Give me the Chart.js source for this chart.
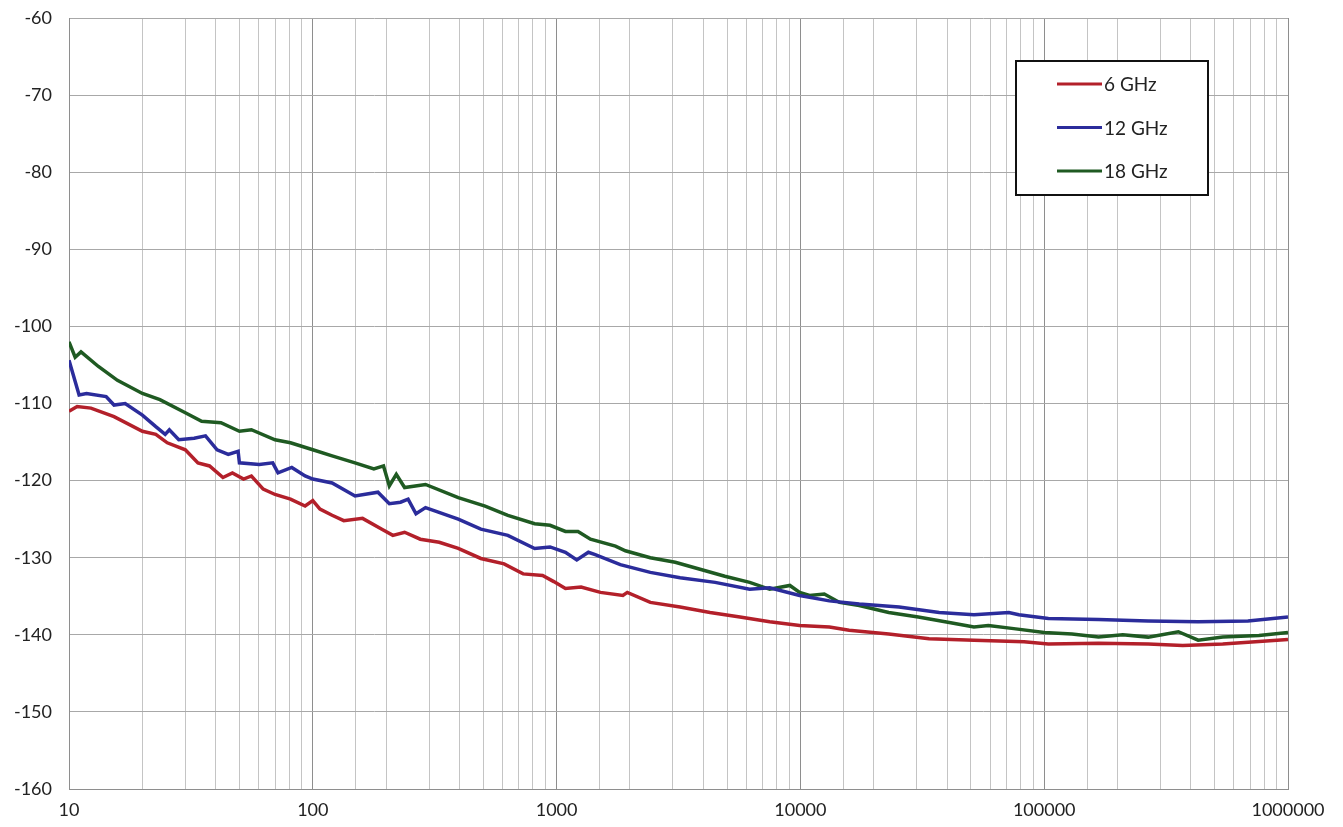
<!DOCTYPE html>
<html>
<head>
<meta charset="utf-8">
<script src="https://cdn.jsdelivr.net/npm/chart.js@4.4.1/dist/chart.umd.min.js"></script>
<style>
  body { margin: 0; background: #fff; }
  #wrap { width: 1343px; height: 827px; }
</style>
</head>
<body>
<div id="wrap"><canvas id="noiseChart" width="1343" height="827"></canvas></div>
<script>
// Series labels
const seriesLabels = ['6 GHz', '12 GHz', '18 GHz'];

// 6 GHz
const freq6 = [10, 10.8, 12.3, 15.3, 20, 22.7, 25.3, 30, 33.8, 37.7, 42.8, 46.8, 52, 56, 62.6, 70, 81, 93, 100, 107, 120, 134, 160, 192, 213, 238, 276, 330, 395, 489, 609, 729, 876, 974, 1087, 1260, 1513, 1870, 1950, 2423, 3210, 4260, 5650, 7485, 9930, 13150, 15850, 23030, 33700, 51500, 82700, 104000, 167000, 267000, 370000, 540000, 1000000];
const val6 = [-111.0, -110.4, -110.6, -111.7, -113.6, -114.0, -115.1, -116.0, -117.7, -118.1, -119.6, -119.0, -119.8, -119.4, -121.1, -121.8, -122.4, -123.3, -122.6, -123.7, -124.5, -125.2, -124.9, -126.3, -127.1, -126.7, -127.6, -128.0, -128.8, -130.1, -130.8, -132.1, -132.3, -133.1, -134.0, -133.8, -134.5, -134.9, -134.5, -135.8, -136.4, -137.1, -137.7, -138.3, -138.8, -139.0, -139.4, -139.9, -140.5, -140.7, -140.9, -141.2, -141.1, -141.2, -141.4, -141.2, -140.6];

// 12 GHz
const freq12 = [10, 11, 11.8, 14.2, 15.3, 17, 20, 22.7, 24.8, 25.8, 28.2, 32.6, 36.3, 40.5, 45, 49.4, 50, 60.3, 68.5, 72, 82, 93, 100, 120, 149, 185, 206, 229, 246, 265, 290, 395, 489, 631, 813, 940, 1087, 1210, 1350, 1440, 1825, 2423, 3210, 4470, 6195, 7485, 9930, 13150, 17430, 25400, 37100, 51500, 71600, 78700, 104000, 167000, 267000, 428000, 685000, 1000000];
const val12 = [-104.4, -108.9, -108.7, -109.1, -110.2, -110.0, -111.5, -113.0, -114.0, -113.4, -114.7, -114.5, -114.2, -116.0, -116.6, -116.2, -117.7, -117.9, -117.7, -119.0, -118.3, -119.4, -119.8, -120.3, -122.0, -121.5, -123.0, -122.8, -122.4, -124.3, -123.5, -125.0, -126.3, -127.1, -128.8, -128.6, -129.3, -130.3, -129.3, -129.6, -130.9, -131.9, -132.6, -133.2, -134.1, -133.9, -134.9, -135.6, -136.0, -136.4, -137.1, -137.4, -137.1, -137.4, -137.9, -138.0, -138.2, -138.3, -138.2, -137.7];

// 18 GHz
const freq18 = [10, 10.6, 11.2, 13.2, 15.8, 20, 23.6, 30, 35, 42, 50, 56, 70, 81, 100, 120, 149, 178, 195, 206, 220, 238, 290, 395, 509, 631, 813, 940, 1087, 1224, 1377, 1743, 1915, 2423, 3066, 3875, 4898, 6195, 7485, 9052, 9930, 10900, 12530, 14480, 17430, 23030, 30450, 40800, 51500, 59000, 75000, 100000, 130000, 167000, 210000, 267000, 355000, 428000, 540000, 760000, 1000000];
const val18 = [-102.0, -104.0, -103.3, -105.2, -107.0, -108.7, -109.5, -111.2, -112.3, -112.5, -113.6, -113.4, -114.7, -115.1, -116.0, -116.8, -117.7, -118.5, -118.1, -120.7, -119.2, -120.9, -120.5, -122.2, -123.3, -124.5, -125.6, -125.8, -126.6, -126.6, -127.6, -128.5, -129.1, -130.0, -130.6, -131.5, -132.4, -133.2, -134.1, -133.6, -134.5, -134.9, -134.7, -135.8, -136.2, -137.1, -137.7, -138.4, -139.0, -138.8, -139.2, -139.7, -139.9, -140.3, -140.0, -140.3, -139.6, -140.7, -140.3, -140.1, -139.7];

const seriesColors = ['#b3202a', '#2b2c9b', '#1f5a22'];

function toPoints(xs, ys) {
    return xs.map((x, i) => ({ x: x, y: ys[i] }));
}

function isDecade(v) {
    const l = Math.log10(v);
    return Math.abs(l - Math.round(l)) < 1e-9;
}

// Legend box drawn inside the plot, top right
const boxLegend = {
    id: 'boxLegend',
    afterDraw(chart) {
        const ctx = chart.ctx;
        const left = 1016, top = 61, w = 192, h = 134;
        ctx.save();
        ctx.fillStyle = '#fff';
        ctx.fillRect(left, top, w, h);
        ctx.strokeStyle = '#111';
        ctx.lineWidth = 2;
        ctx.strokeRect(left, top, w, h);
        ctx.font = '19px Lato, "Open Sans", sans-serif';
        ctx.textBaseline = 'middle';
        chart.data.datasets.forEach((ds, i) => {
            const y = top + 23 + i * 43.5;
            ctx.strokeStyle = ds.borderColor;
            ctx.lineWidth = 3;
            ctx.beginPath();
            ctx.moveTo(left + 41, y);
            ctx.lineTo(left + 86, y);
            ctx.stroke();
            ctx.fillStyle = '#222';
            ctx.fillText(ds.label, left + 88, y + 1);
        });
        ctx.restore();
    }
};

const ctx = document.getElementById('noiseChart').getContext('2d');
new Chart(ctx, {
    type: 'line',
    data: {
        datasets: [
            { label: seriesLabels[0], data: toPoints(freq6, val6), borderColor: seriesColors[0] },
            { label: seriesLabels[1], data: toPoints(freq12, val12), borderColor: seriesColors[1] },
            { label: seriesLabels[2], data: toPoints(freq18, val18), borderColor: seriesColors[2] }
        ].map(d => Object.assign(d, { borderWidth: 3.5, pointRadius: 0, tension: 0, fill: false }))
    },
    options: {
        responsive: false,
        animation: false,
        layout: { padding: { left: 0, right: 55, top: 18, bottom: 0 } },
        plugins: {
            legend: { display: false },
            tooltip: { enabled: false }
        },
        scales: {
            x: {
                type: 'logarithmic',
                min: 10,
                max: 1000000,
                afterFit: s => { s.height = 38; s.paddingLeft = 0; s.paddingRight = 0; },
                grid: {
                    color: c => isDecade(c.tick.value) ? '#8e8e8e' : '#c4c4c4',
                    lineWidth: 1,
                    drawTicks: false
                },
                border: { color: '#8e8e8e' },
                ticks: {
                    autoSkip: false,
                    maxRotation: 0,
                    padding: 10,
                    color: '#222',
                    font: { family: 'Lato, "Open Sans", sans-serif', size: 18 },
                    callback: v => isDecade(v) ? String(Math.round(v)) : ''
                }
            },
            y: {
                min: -160,
                max: -60,
                afterFit: s => { s.width = 69; s.paddingTop = 0; s.paddingBottom = 0; },
                grid: { color: '#a8a8a8', lineWidth: 1, drawTicks: false },
                border: { color: '#8e8e8e' },
                ticks: {
                    stepSize: 10,
                    padding: 17,
                    color: '#222',
                    font: { family: 'Lato, "Open Sans", sans-serif', size: 18 }
                }
            }
        }
    },
    plugins: [boxLegend]
});
</script>
</body>
</html>
